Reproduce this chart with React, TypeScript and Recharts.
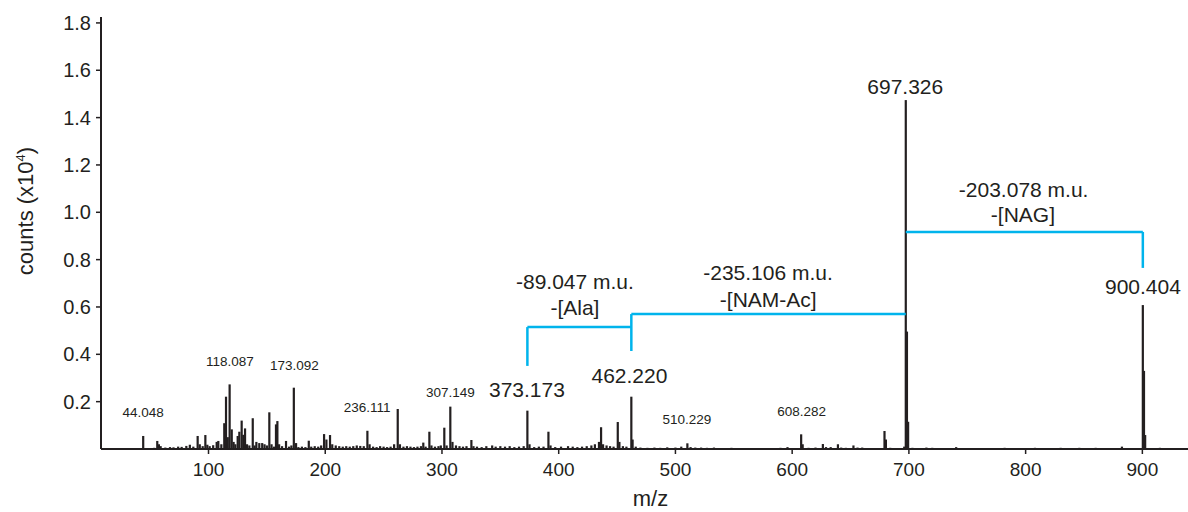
import React from "react";
import { ComposedChart, Bar, Scatter, XAxis, YAxis, ReferenceLine } from "recharts";

const INK = "#231f20";
const CYAN = "#00b4ec";
const FONT = '"Liberation Sans", Arial, Helvetica, sans-serif';

// stick spectrum: m/z and counts (x10^4)
const peakMz = [
  38.5, 44.05, 53.5, 56.1, 57.5, 59, 63, 67, 70, 74, 77, 81, 84, 87, 90.7, 92.5, 95, 97.3, 99,
  101, 104, 107, 108.4, 111, 113.5, 115, 116.5, 118.09, 119.9, 121.5, 123, 125, 126.4, 128.4,
  129.8, 131.3, 133, 135, 137.9, 139.5, 141, 143.5, 146, 148, 150, 152.1, 154, 156, 157.8, 159,
  160.5, 163, 166.4, 169, 171, 173.09, 175, 177, 180, 183, 185.9, 188, 191, 194, 196.5, 199, 201,
  204.1, 206, 209, 212, 215, 218, 221, 224, 227, 230, 233, 236.11, 238, 241, 244, 247, 250, 253,
  256, 259, 262.1, 264, 267, 270, 273, 276, 279, 282, 284, 286, 289.2, 291, 294, 297, 299, 302,
  304, 307.15, 309, 312, 315, 318, 321, 325.2, 327, 330, 334, 338, 343, 346, 350, 354, 358, 362,
  366, 370, 373.17, 375, 379, 383, 387, 391.2, 393, 397, 402, 408, 412, 416, 420, 424, 428, 431,
  434.5, 436.3, 438, 441, 444, 447, 450.6, 452, 455, 458, 462.22, 463.3, 466, 470, 476, 482, 487,
  493, 500, 505, 510.23, 513, 517, 522, 527, 533, 540, 548, 560, 575, 590, 596, 600, 607.7, 609,
  614, 620, 626.3, 629, 633, 639.2, 642, 646, 652.5, 656, 660, 666, 672, 679.1, 680.3, 684, 690,
  696, 697.33, 698.33, 699.33, 703, 710, 715, 720, 725, 731, 740.5, 750, 760, 775, 782, 790, 800,
  808, 815, 822, 830, 838, 846, 852, 860, 868, 875, 882.5, 886, 895, 900.4, 901.4, 902.4, 905,
  915, 925,
];
const peakCounts = [
  0.004, 0.055, 0.005, 0.034, 0.02, 0.012, 0.006, 0.008, 0.007, 0.01, 0.009, 0.013, 0.018, 0.01,
  0.055, 0.02, 0.012, 0.059, 0.018, 0.012, 0.016, 0.03, 0.034, 0.02, 0.109, 0.221, 0.05, 0.273,
  0.083, 0.03, 0.02, 0.055, 0.073, 0.12, 0.06, 0.087, 0.02, 0.015, 0.13, 0.015, 0.03, 0.025, 0.025,
  0.02, 0.015, 0.155, 0.02, 0.01, 0.104, 0.118, 0.02, 0.012, 0.034, 0.01, 0.015, 0.259, 0.025,
  0.008, 0.01, 0.008, 0.035, 0.01, 0.012, 0.01, 0.015, 0.063, 0.04, 0.059, 0.02, 0.015, 0.012,
  0.01, 0.012, 0.01, 0.012, 0.015, 0.013, 0.012, 0.077, 0.02, 0.01, 0.008, 0.012, 0.01, 0.008,
  0.01, 0.02, 0.169, 0.02, 0.01, 0.012, 0.01, 0.008, 0.01, 0.012, 0.027, 0.01, 0.073, 0.015, 0.01,
  0.012, 0.015, 0.09, 0.015, 0.179, 0.03, 0.015, 0.012, 0.01, 0.012, 0.038, 0.012, 0.01, 0.008,
  0.012, 0.015, 0.01, 0.012, 0.01, 0.012, 0.008, 0.01, 0.012, 0.162, 0.02, 0.008, 0.01, 0.01,
  0.073, 0.015, 0.008, 0.01, 0.012, 0.01, 0.008, 0.01, 0.012, 0.015, 0.02, 0.03, 0.092, 0.02,
  0.015, 0.012, 0.01, 0.114, 0.03, 0.012, 0.01, 0.221, 0.04, 0.01, 0.006, 0.005, 0.006, 0.005,
  0.007, 0.006, 0.01, 0.024, 0.008, 0.006, 0.006, 0.005, 0.006, 0.004, 0.005, 0.004, 0.003, 0.005,
  0.008, 0.004, 0.062, 0.02, 0.005, 0.006, 0.021, 0.008, 0.008, 0.02, 0.006, 0.005, 0.015, 0.006,
  0.006, 0.004, 0.004, 0.076, 0.04, 0.005, 0.004, 0.01, 1.474, 0.496, 0.115, 0.005, 0.004, 0.006,
  0.005, 0.004, 0.003, 0.008, 0.003, 0.003, 0.004, 0.005, 0.004, 0.003, 0.005, 0.004, 0.003,
  0.005, 0.004, 0.005, 0.004, 0.005, 0.003, 0.003, 0.01, 0.004, 0.004, 0.608, 0.33, 0.059, 0.004,
  0.005, 0.003,
];

const xTicks = [100, 200, 300, 400, 500, 600, 700, 800, 900];
const yTicks = [0.2, 0.4, 0.6, 0.8, 1.0, 1.2, 1.4, 1.6, 1.8];

// small peak labels (text baseline position in data units)
const minorLabelText = ["44.048", "118.087", "173.092", "236.111", "307.149", "510.229", "608.282"];
const minorLabelMz = [44.0, 118.4, 173.6, 235.8, 307.3, 509.9, 608.2];
const minorLabelY = [0.135, 0.351, 0.334, 0.158, 0.218, 0.104, 0.139];

// large labels: fragment masses and neutral losses
const majorLabelText = [
  "373.173", "462.220", "697.326", "900.404",
  "-89.047 m.u.", "-[Ala]", "-235.106 m.u.", "-[NAM-Ac]", "-203.078 m.u.", "-[NAG]",
];
const majorLabelMz = [372.8, 460.6, 696.9, 900.5, 413.9, 413.9, 579.3, 579.5, 798.3, 797.7];
const majorLabelY = [0.22, 0.279, 1.5, 0.655, 0.676, 0.564, 0.712, 0.6, 1.065, 0.961];

// loss brackets between fragment peaks
const bracketSegments = [
  [[373.173, 0.351], [373.173, 0.515]],
  [[373.173, 0.515], [462.22, 0.515]],
  [[462.22, 0.414], [462.22, 0.57]],
  [[462.22, 0.57], [697.326, 0.57]],
  [[697.326, 0.917], [900.404, 0.917]],
  [[900.404, 0.765], [900.404, 0.917]],
];

const spectrum = peakMz.map((m, i) => ({ mz: m, counts: peakCounts[i] }));
const minorLabels = minorLabelText.map((t, i) => ({ mz: minorLabelMz[i], y: minorLabelY[i], text: t }));
const majorLabels = majorLabelText.map((t, i) => ({ mz: majorLabelMz[i], y: majorLabelY[i], text: t }));

function Stick(props: any) {
  const { x, y, width, height } = props;
  if (!height || height <= 0) return null;
  const cx = x + width / 2;
  return <rect x={cx - 1.1} y={y} width={2.2} height={height} fill={INK} />;
}

function textShape(size: number) {
  return (p: any) => (
    <text x={p.cx} y={p.cy} textAnchor="middle" fontSize={size} fill={INK} fontFamily={FONT}>
      {p.payload.text}
    </text>
  );
}

function YTitle(props: any) {
  const vb = props.viewBox || { x: 0, y: 17, width: 101, height: 432 };
  const x = vb.x + 33;
  const y = vb.y + vb.height / 2 - 22;
  return (
    <text
      x={x}
      y={y}
      transform={`rotate(-90, ${x}, ${y})`}
      textAnchor="middle"
      fontSize={22}
      fill={INK}
      fontFamily={FONT}
    >
      <tspan>counts (x10</tspan>
      <tspan dy={-8} fontSize={13}>4</tspan>
      <tspan dy={8}>)</tspan>
    </text>
  );
}

function XTitle(props: any) {
  const vb = props.viewBox || { x: 101, y: 449, width: 1087, height: 63 };
  return (
    <text
      x={vb.x + vb.width / 2 + 6}
      y={vb.y + 57}
      textAnchor="middle"
      fontSize={22}
      fill={INK}
      fontFamily={FONT}
    >
      m/z
    </text>
  );
}

export default function App() {
  return (
    <div style={{ position: "absolute", left: 0, top: 0, width: 1188, height: 512, background: "#fff" }}>
      <ComposedChart
        width={1188}
        height={512}
        data={spectrum}
        margin={{ top: 17, right: 0, bottom: 0, left: 0 }}
      >
        <XAxis
          dataKey="mz"
          type="number"
          domain={[7.9, 939.1]}
          allowDataOverflow
          ticks={xTicks}
          height={63}
          tickSize={5}
          tickMargin={9}
          axisLine={{ stroke: INK, strokeWidth: 2 }}
          tickLine={{ stroke: INK, strokeWidth: 1.5 }}
          tick={{ fontSize: 19, fill: INK, fontFamily: FONT }}
          label={{ content: XTitle }}
        />
        <YAxis
          type="number"
          domain={[0, 1.825]}
          allowDataOverflow
          ticks={yTicks}
          width={101}
          tickSize={5}
          tickMargin={5}
          tickFormatter={(v: number) => v.toFixed(1)}
          axisLine={{ stroke: INK, strokeWidth: 2 }}
          tickLine={{ stroke: INK, strokeWidth: 1.5 }}
          tick={{ fontSize: 20, fill: INK, fontFamily: FONT }}
          label={{ content: YTitle }}
        />
        <Bar dataKey="counts" shape={(p: any) => <Stick {...p} />} isAnimationActive={false} />
        {bracketSegments.map((s, i) => (
          <ReferenceLine
            key={i}
            segment={[{ x: s[0][0], y: s[0][1] }, { x: s[1][0], y: s[1][1] }]}
            stroke={CYAN}
            strokeWidth={2.5}
          />
        ))}
        <Scatter data={minorLabels} dataKey="y" shape={textShape(13.5)} isAnimationActive={false} />
        <Scatter data={majorLabels} dataKey="y" shape={textShape(21)} isAnimationActive={false} />
      </ComposedChart>
    </div>
  );
}
